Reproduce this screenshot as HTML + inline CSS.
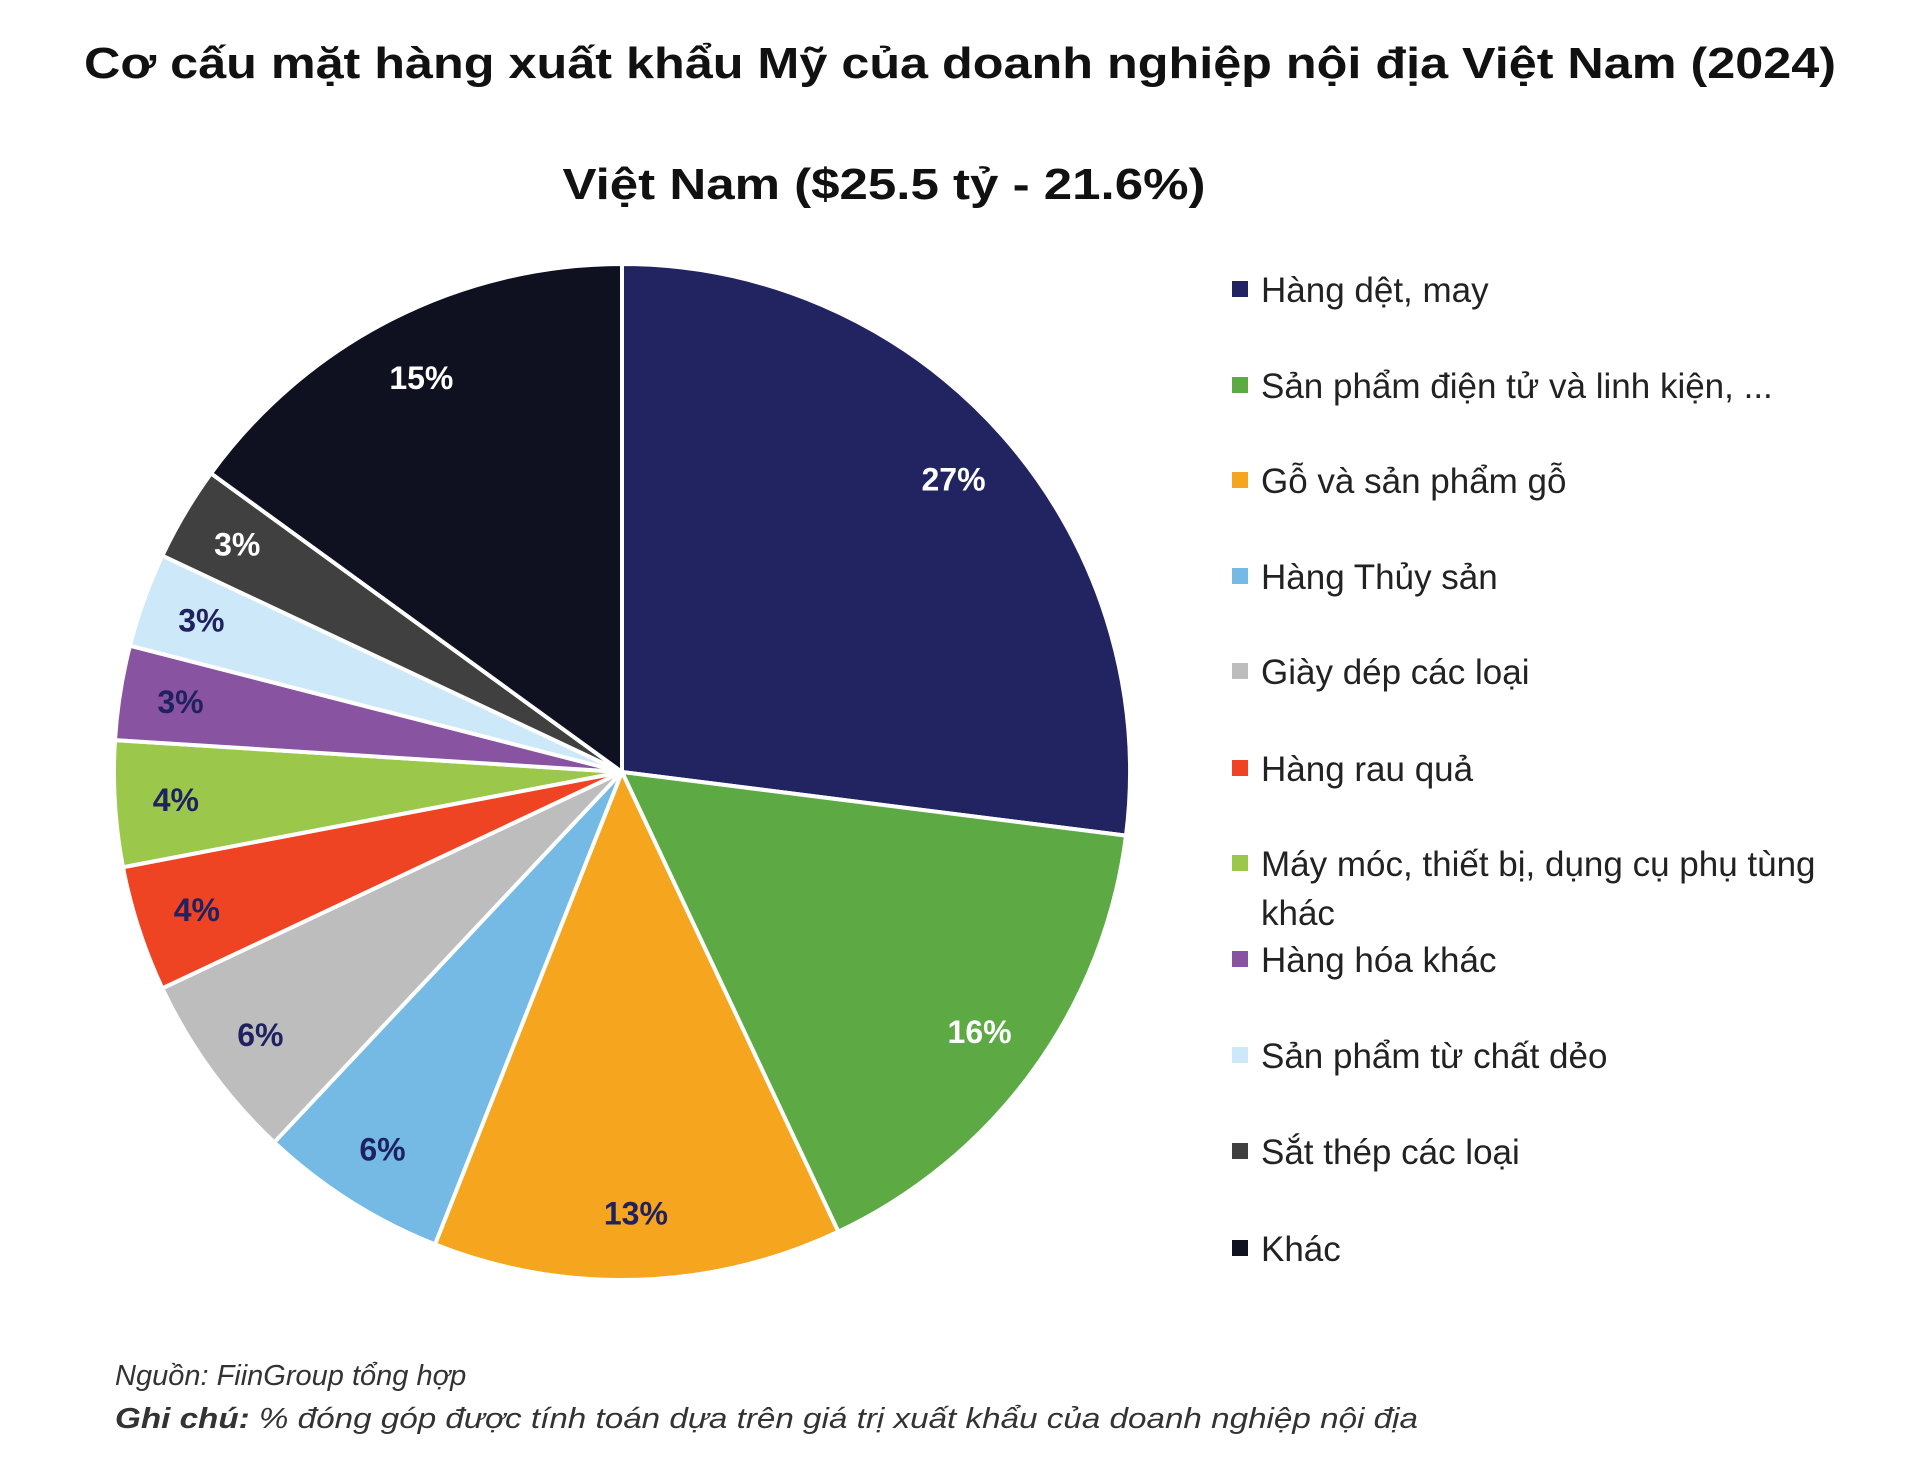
<!DOCTYPE html>
<html><head><meta charset="utf-8"><style>
html,body{margin:0;padding:0;background:#fff;}
svg{display:block;}
</style></head><body>
<svg id="chart" width="1920" height="1480" viewBox="0 0 1920 1480" xmlns="http://www.w3.org/2000/svg" font-family="Liberation Sans, Noto Sans CJK SC, sans-serif">
<rect width="1920" height="1480" fill="#fff"/>
<text x="960" y="78" text-anchor="middle" font-size="44" font-weight="bold" fill="#111" textLength="1752" lengthAdjust="spacingAndGlyphs">Cơ cấu mặt hàng xuất khẩu Mỹ của doanh nghiệp nội địa Việt Nam (2024)</text>
<text x="884" y="199" text-anchor="middle" font-size="44" font-weight="bold" fill="#111" textLength="643" lengthAdjust="spacingAndGlyphs">Việt Nam ($25.5 tỷ - 21.6%)</text>
<g id="slices"></g>
<g id="labels"></g>
<g id="legend"></g>
<text x="115" y="1385" font-size="29" font-style="italic" fill="#333">Nguồn: FiinGroup tổng hợp</text>
<text x="115" y="1428" font-size="29" font-style="italic" fill="#333" textLength="1303" lengthAdjust="spacingAndGlyphs"><tspan font-weight="bold">Ghi chú:</tspan> % đóng góp được tính toán dựa trên giá trị xuất khẩu của doanh nghiệp nội địa</text>
</svg>
<script>
const categories = ["Hàng dệt, may","Sản phẩm điện tử và linh kiện, ...","Gỗ và sản phẩm gỗ","Hàng Thủy sản","Giày dép các loại","Hàng rau quả","Máy móc, thiết bị, dụng cụ phụ tùng khác","Hàng hóa khác","Sản phẩm từ chất dẻo","Sắt thép các loại","Khác"];
const values = [27,16,13,6,6,4,4,3,3,3,15];
const valueLabels = ["27%","16%","13%","6%","6%","4%","4%","3%","3%","3%","15%"];
const colors = ["#222462","#5DAA45","#F5A51E","#74BAE5","#BDBDBD","#EE4424","#9BC84A","#8853A0","#CDE8F8","#404040","#0F1020"];
const labelColors = ["#fff","#fff","#1f2160","#1f2160","#1f2160","#1f2160","#1f2160","#1f2160","#1f2160","#fff","#fff"];
const NS="http://www.w3.org/2000/svg";
const cx=622, cy=772, r=508;
const total=values.reduce((a,b)=>a+b,0);
function angleScale(v){return v/total*2*Math.PI;}
function pt(a,rad){return [cx+rad*Math.sin(a), cy-rad*Math.cos(a)];}
const gS=document.getElementById('slices'), gL=document.getElementById('labels'), gG=document.getElementById('legend');
let a0=0;
values.forEach((v,i)=>{
  const a1=a0+angleScale(v);
  const p0=pt(a0,r), p1=pt(a1,r);
  const large=(a1-a0)>Math.PI?1:0;
  const path=document.createElementNS(NS,'path');
  path.setAttribute('d',`M${cx},${cy} L${p0[0]},${p0[1]} A${r},${r} 0 ${large} 1 ${p1[0]},${p1[1]} Z`);
  path.setAttribute('fill',colors[i]);
  path.setAttribute('stroke','#fff');
  path.setAttribute('stroke-width','4');
  path.setAttribute('stroke-linejoin','round');
  
  
  gS.appendChild(path);
  const am=(a0+a1)/2;
  const lp=pt(am, r*(v<10?0.88:0.87));
  const t=document.createElementNS(NS,'text');
  t.setAttribute('x',lp[0]); t.setAttribute('y',lp[1]+11);
  t.setAttribute('text-anchor','middle');
  t.setAttribute('font-size','32'); t.setAttribute('font-weight','bold');
  t.setAttribute('fill',labelColors[i]);
  
  
  t.textContent=valueLabels[i];
  gL.appendChild(t);
  a0=a1;
});
const legendY=[290,386,481,577,672,769,864,960,1056,1152,1249];
categories.forEach((c,i)=>{
  const y=legendY[i];
  const sq=document.createElementNS(NS,'rect');
  sq.setAttribute('x',1232); sq.setAttribute('y',y-9); sq.setAttribute('width',16); sq.setAttribute('height',16);
  sq.setAttribute('fill',colors[i]);
  
  
  gG.appendChild(sq);
  const t=document.createElementNS(NS,'text');
  t.setAttribute('x',1261); t.setAttribute('y',y+12);
  t.setAttribute('font-size','35'); t.setAttribute('fill','#222');
  
  
  if(i===6){
    const s1=document.createElementNS(NS,'tspan'); s1.setAttribute('x',1261); s1.textContent="Máy móc, thiết bị, dụng cụ phụ tùng";
    const s2=document.createElementNS(NS,'tspan'); s2.setAttribute('x',1261); s2.setAttribute('dy','49'); s2.textContent="khác";
    t.appendChild(s1); t.appendChild(s2);
  } else t.textContent=c;
  gG.appendChild(t);
});
</script>
</body></html>
